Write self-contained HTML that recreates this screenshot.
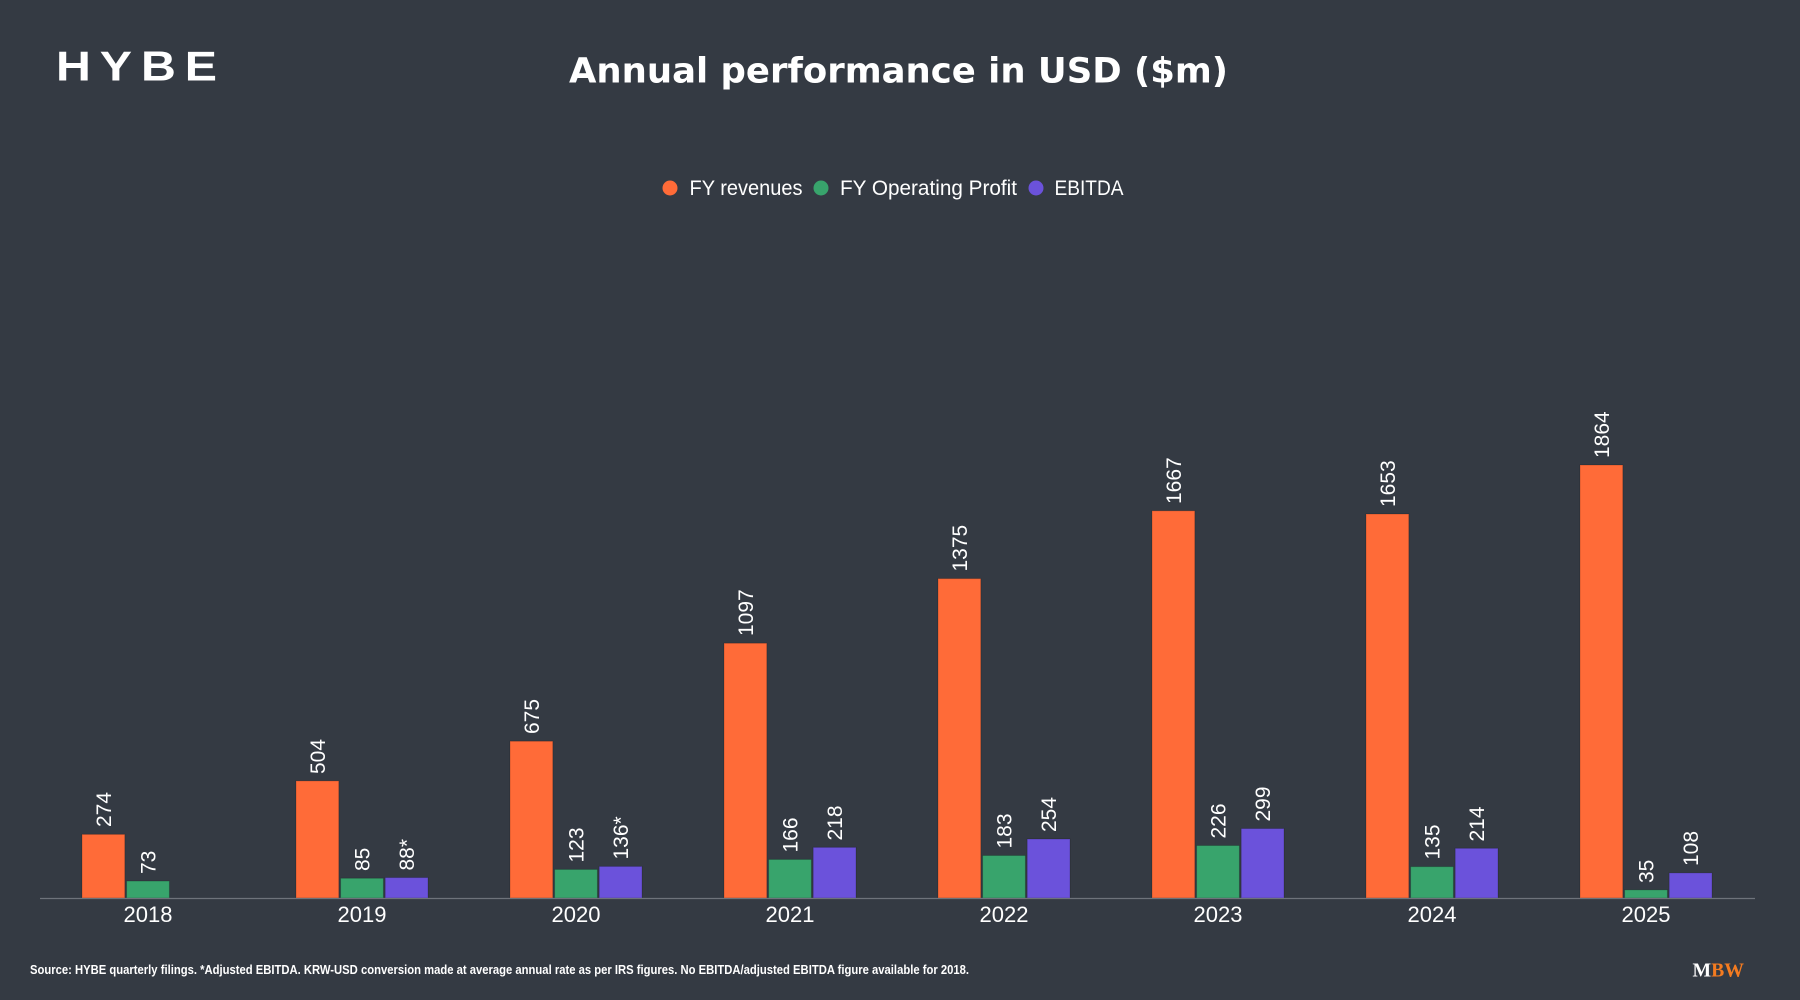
<!DOCTYPE html>
<html>
<head>
<meta charset="utf-8">
<style>
  html, body { margin: 0; padding: 0; background: #343a43; }
  svg { display: block; }
</style>
</head>
<body>
<svg width="1800" height="1000" viewBox="0 0 1800 1000" xmlns="http://www.w3.org/2000/svg">
  <rect x="0" y="0" width="1800" height="1000" fill="#343a43"/>

  <!-- Logo -->
  <text transform="translate(56,80.5) scale(1.15,1)" x="0" y="0" font-family="Liberation Sans, sans-serif" font-weight="bold" font-size="42" fill="#ffffff" textLength="140" lengthAdjust="spacing">HYBE</text>

  <!-- Title -->
  <text x="569" y="82.5" font-family="DejaVu Sans, sans-serif" font-weight="bold" font-size="35" fill="#ffffff" textLength="659" lengthAdjust="spacingAndGlyphs">Annual performance in USD ($m)</text>

  <!-- Legend -->
  <g font-family="Liberation Sans, sans-serif" font-size="21" fill="#ffffff">
    <circle cx="670" cy="188" r="7.5" fill="#ff6b38"/>
    <text x="689.5" y="195" textLength="113" lengthAdjust="spacingAndGlyphs">FY revenues</text>
    <circle cx="821" cy="188" r="7.5" fill="#38a46c"/>
    <text x="840" y="195" textLength="177" lengthAdjust="spacingAndGlyphs">FY Operating Profit</text>
    <circle cx="1036" cy="188" r="7.5" fill="#6b52db"/>
    <text x="1054.5" y="195" textLength="69" lengthAdjust="spacingAndGlyphs">EBITDA</text>
  </g>

  <!-- Bars -->
  <g stroke="rgba(0,0,0,0.18)" stroke-width="1">
    <rect x="82" y="834.35" width="42.8" height="63.65" fill="#ff6b38"/>
    <rect x="126.6" y="881.04" width="42.8" height="16.96" fill="#38a46c"/>
    <rect x="296" y="780.9" width="42.8" height="117.1" fill="#ff6b38"/>
    <rect x="340.6" y="878.25" width="42.8" height="19.75" fill="#38a46c"/>
    <rect x="385.2" y="877.56" width="42.8" height="20.44" fill="#6b52db"/>
    <rect x="510" y="741.2" width="42.8" height="156.8" fill="#ff6b38"/>
    <rect x="554.6" y="869.43" width="42.8" height="28.57" fill="#38a46c"/>
    <rect x="599.2" y="866.41" width="42.8" height="31.59" fill="#6b52db"/>
    <rect x="724" y="643.2" width="42.8" height="254.8" fill="#ff6b38"/>
    <rect x="768.6" y="859.44" width="42.8" height="38.56" fill="#38a46c"/>
    <rect x="813.2" y="847.36" width="42.8" height="50.64" fill="#6b52db"/>
    <rect x="938" y="578.6" width="42.8" height="319.4" fill="#ff6b38"/>
    <rect x="982.6" y="855.49" width="42.8" height="42.51" fill="#38a46c"/>
    <rect x="1027.2" y="839.0" width="42.8" height="59.0" fill="#6b52db"/>
    <rect x="1152" y="510.8" width="42.8" height="387.2" fill="#ff6b38"/>
    <rect x="1196.6" y="845.5" width="42.8" height="52.5" fill="#38a46c"/>
    <rect x="1241.2" y="828.54" width="42.8" height="69.46" fill="#6b52db"/>
    <rect x="1366" y="514.0" width="42.8" height="384.0" fill="#ff6b38"/>
    <rect x="1410.6" y="866.64" width="42.8" height="31.36" fill="#38a46c"/>
    <rect x="1455.2" y="848.3" width="42.8" height="49.7" fill="#6b52db"/>
    <rect x="1580" y="465.0" width="42.8" height="433.0" fill="#ff6b38"/>
    <rect x="1624.6" y="889.87" width="42.8" height="8.13" fill="#38a46c"/>
    <rect x="1669.2" y="872.91" width="42.8" height="25.09" fill="#6b52db"/>
  </g>

  <!-- Axis -->
  <line x1="40" y1="898.5" x2="1755" y2="898.5" stroke="#6e737b" stroke-width="1.2"/>

  <!-- Value labels (rotated) -->
  <g font-family="Liberation Sans, sans-serif" font-size="21" fill="#ffffff">
    <text transform="translate(111,827) rotate(-90)">274</text>
    <text transform="translate(155.5,874) rotate(-90)">73</text>

    <text transform="translate(325,774) rotate(-90)">504</text>
    <text transform="translate(369.5,871) rotate(-90)">85</text>
    <text transform="translate(414,870.5) rotate(-90)">88*</text>

    <text transform="translate(539,734) rotate(-90)">675</text>
    <text transform="translate(583.5,862.5) rotate(-90)">123</text>
    <text transform="translate(628,859.5) rotate(-90)">136*</text>

    <text transform="translate(753,636) rotate(-90)">1097</text>
    <text transform="translate(797.5,852.5) rotate(-90)">166</text>
    <text transform="translate(842,840.5) rotate(-90)">218</text>

    <text transform="translate(967,571.5) rotate(-90)">1375</text>
    <text transform="translate(1011.5,848.5) rotate(-90)">183</text>
    <text transform="translate(1056,832) rotate(-90)">254</text>

    <text transform="translate(1181,504) rotate(-90)">1667</text>
    <text transform="translate(1225.5,838.5) rotate(-90)">226</text>
    <text transform="translate(1270,821.5) rotate(-90)">299</text>

    <text transform="translate(1395,507) rotate(-90)">1653</text>
    <text transform="translate(1439.5,859.5) rotate(-90)">135</text>
    <text transform="translate(1484,841.5) rotate(-90)">214</text>

    <text transform="translate(1609,458) rotate(-90)">1864</text>
    <text transform="translate(1653.5,883) rotate(-90)">35</text>
    <text transform="translate(1698,866) rotate(-90)">108</text>
  </g>

  <!-- X labels -->
  <g font-family="Liberation Sans, sans-serif" font-size="22" fill="#ffffff" text-anchor="middle">
    <text x="148" y="922">2018</text>
    <text x="362" y="922">2019</text>
    <text x="576" y="922">2020</text>
    <text x="790" y="922">2021</text>
    <text x="1004" y="922">2022</text>
    <text x="1218" y="922">2023</text>
    <text x="1432" y="922">2024</text>
    <text x="1646" y="922">2025</text>
  </g>

  <!-- Footer -->
  <text x="30" y="974" font-family="Liberation Sans, sans-serif" font-weight="bold" font-size="12.5" fill="#ffffff" textLength="939" lengthAdjust="spacingAndGlyphs">Source: HYBE quarterly filings. *Adjusted EBITDA. KRW-USD conversion made at average annual rate as per IRS figures. No EBITDA/adjusted EBITDA figure available for 2018.</text>

  <!-- MBW logo -->
  <text x="1692.5" y="976.5" font-family="Liberation Serif, serif" font-weight="bold" font-size="20" textLength="51.5" lengthAdjust="spacingAndGlyphs"><tspan fill="#ffffff">M</tspan><tspan fill="#f47b20">BW</tspan></text>
</svg>
</body>
</html>
